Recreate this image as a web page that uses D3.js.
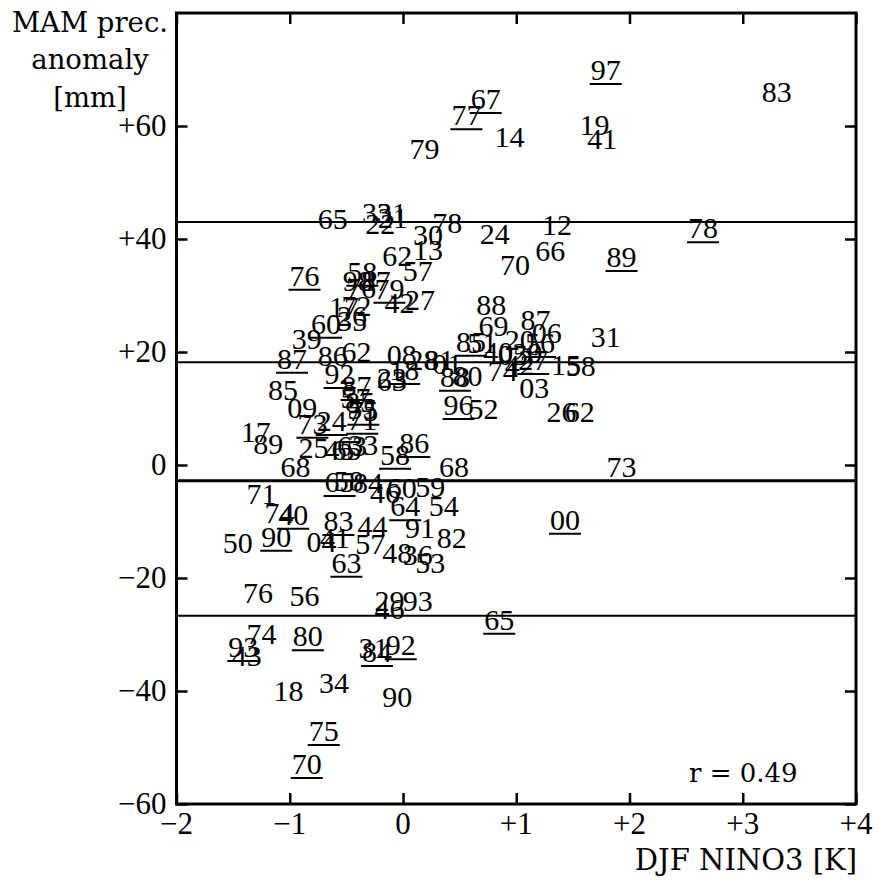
<!DOCTYPE html>
<html>
<head>
<meta charset="utf-8">
<script src="https://cdn.jsdelivr.net/npm/d3@7"></script>
<style>
  body { margin: 0; background: #fff; }
</style>
</head>
<body>
<div id="chart-container"></div>
<script>
// chart values
const years = ['97','83','67','77','14','79','19','41','65','33','31','22','21','78','30','24','12','78','66','70',
  '89','62','13','57','76','58','98','76','87','79','42','27','17','72','26','60','35','39','87','86',
  '62','92','85','09','87','57','85','55','75','73','24','71','25','45','65','63','33','17','89','68',
  '58','86','68','65','58','84','46','60','59','64','54','71','74','40','90','50','83','04','41','44',
  '57','48','36','53','91','82','63','00','73','76','56','29','46','93','65','74','93','43','80','31',
  '84','92','18','34','90','75','70','88','69','85','51','40','05','29','20','87','06','56','74','42',
  '27','03','15','58','31','26','62','96','52','88','80','08','28','81','01','23','63','18'];

const nino3 = [1.79,3.30,0.73,0.56,0.94,0.19,1.69,1.76,-0.62,-0.23,-0.10,-0.20,-0.09,0.39,0.22,0.81,1.36,2.65,1.30,0.99,
  1.93,-0.05,0.22,0.13,-0.87,-0.36,-0.40,-0.37,-0.24,-0.12,-0.03,0.15,-0.52,-0.41,-0.45,-0.68,-0.45,-0.85,-0.98,-0.62,
  -0.41,-0.56,-1.06,-0.89,-0.41,-0.42,-0.38,-0.36,-0.35,-0.80,-0.63,-0.36,-0.79,-0.56,-0.50,-0.45,-0.35,-1.30,-1.19,-0.95,
  -0.07,0.10,0.45,-0.56,-0.48,-0.31,-0.16,-0.01,0.24,0.02,0.36,-1.25,-1.09,-0.97,-1.12,-1.46,-0.57,-0.72,-0.60,-0.27,
  -0.29,-0.05,0.13,0.24,0.15,0.43,-0.50,1.43,1.93,-1.28,-0.87,-0.12,-0.12,0.13,0.85,-1.25,-1.41,-1.38,-0.84,-0.26,
  -0.23,-0.02,-1.01,-0.61,-0.05,-0.70,-0.85,0.78,0.80,0.60,0.70,0.84,0.97,1.10,1.03,1.17,1.27,1.21,0.88,1.03,
  1.15,1.16,1.44,1.57,1.79,1.40,1.56,0.49,0.71,0.46,0.57,-0.01,0.18,0.32,0.39,-0.10,-0.10,0.01];

const prec = [69.9,66.0,64.8,61.9,58.1,55.9,60.2,57.7,43.5,44.6,44.6,42.7,43.7,42.8,40.7,40.9,42.5,41.9,37.9,35.4,
  36.8,37.0,38.1,34.3,33.5,34.2,32.6,31.3,32.6,31.2,28.7,29.2,28.0,28.1,26.4,25.0,25.5,22.3,18.8,19.3,
  20.0,16.1,13.3,10.1,14.0,11.9,11.2,9.9,9.6,7.3,7.8,8.0,3.0,2.7,2.7,3.4,3.5,5.8,3.7,-0.4,
  1.8,3.9,-0.4,-3.0,-2.8,-3.2,-5.0,-4.1,-3.9,-7.3,-7.3,-5.1,-8.5,-8.8,-12.7,-13.8,-9.9,-13.6,-12.9,-10.8,
  -14.0,-15.6,-15.9,-17.3,-11.2,-12.9,-17.3,-9.7,-0.4,-22.7,-23.2,-24.1,-25.5,-24.1,-27.4,-29.9,-32.2,-33.8,-30.3,-32.4,
  -33.1,-31.9,-40.0,-38.6,-41.1,-47.1,-52.9,28.3,24.6,21.8,21.6,20.0,19.5,19.8,22.1,25.7,23.4,21.6,16.6,17.7,
  18.6,13.6,17.7,17.5,22.7,9.4,9.4,10.6,9.9,15.6,15.8,19.5,18.6,18.6,17.9,15.4,14.9,16.8];

// 1 = year drawn underlined
const underlined = [1,0,1,1,0,0,0,0,0,0,0,0,0,0,0,0,0,1,0,0,
  1,0,0,0,1,1,0,0,0,1,0,0,0,0,0,1,0,0,1,0,
  0,1,0,0,1,0,0,0,1,1,1,1,0,0,0,0,0,0,0,0,
  1,1,0,1,0,0,0,0,0,1,0,0,0,1,1,0,1,0,0,0,
  0,0,0,0,0,0,1,1,0,0,0,0,0,0,1,0,1,0,1,0,
  1,1,0,0,0,1,1,0,0,1,0,0,0,0,0,0,0,1,0,0,
  1,0,0,0,0,0,0,1,0,1,0,0,0,0,0,0,0,1];

const refLines = [43.0, 18.2, -2.8, -26.7];
const xTicks = [-2, -1, 0, 1, 2, 3, 4];
const yTicks = [-60, -40, -20, 0, 20, 40, 60];

const chart_width = 879;
const chart_height = 880;
const p_left = 176.5, p_right = 856, p_top = 13, p_bottom = 804;
const serif = "'Liberation Serif', 'Times New Roman', serif";
const titleFont = "'DejaVu Serif', serif";

const svg = d3.select('#chart-container')
    .append('svg')
    .attr('width', chart_width)
    .attr('height', chart_height);

const x_scale = d3.scaleLinear().domain([-2, 4]).range([p_left, p_right]);
const y_scale = d3.scaleLinear().domain([-60, 80]).range([p_bottom, p_top]);

const signed = v => v > 0 ? '+' + v : (v < 0 ? '\u2212' + Math.abs(v) : '0');

// reference lines
svg.selectAll('.ref')
    .data(refLines)
    .enter()
    .append('line')
    .attr('x1', p_left).attr('x2', p_right)
    .attr('y1', d => y_scale(d)).attr('y2', d => y_scale(d))
    .attr('stroke', '#000')
    .attr('stroke-width', (d, i) => i == 2 ? 3 : 2);

// axes, ticks pointing inward on all four sides
svg.append('g')
    .attr('transform', `translate(0, ${p_bottom})`)
    .call(d3.axisTop(x_scale).tickValues(xTicks).tickSize(11).tickFormat(''))
    .call(g => g.select('.domain').remove());
svg.append('g')
    .attr('transform', `translate(0, ${p_top})`)
    .call(d3.axisBottom(x_scale).tickValues(xTicks).tickSize(11).tickFormat(''))
    .call(g => g.select('.domain').remove());
svg.append('g')
    .attr('transform', `translate(${p_left}, 0)`)
    .call(d3.axisRight(y_scale).tickValues(yTicks).tickSize(11).tickFormat(''))
    .call(g => g.select('.domain').remove());
svg.append('g')
    .attr('transform', `translate(${p_right}, 0)`)
    .call(d3.axisLeft(y_scale).tickValues(yTicks).tickSize(11).tickFormat(''))
    .call(g => g.select('.domain').remove());
svg.selectAll('.tick line').attr('stroke-width', 2.5);

// tick labels
svg.selectAll('.xlab')
    .data(xTicks)
    .enter()
    .append('text')
    .attr('x', d => x_scale(d))
    .attr('y', p_bottom + 30)
    .attr('text-anchor', 'middle')
    .attr('font-family', serif)
    .attr('font-size', 31)
    .text(signed);

svg.selectAll('.ylab')
    .data(yTicks)
    .enter()
    .append('text')
    .attr('x', p_left - 10)
    .attr('y', d => y_scale(d) + 10)
    .attr('text-anchor', 'end')
    .attr('font-family', serif)
    .attr('font-size', 31)
    .text(signed);

// frame
svg.append('rect')
    .attr('x', p_left).attr('y', p_top)
    .attr('width', p_right - p_left).attr('height', p_bottom - p_top)
    .attr('fill', 'none')
    .attr('stroke', '#000')
    .attr('stroke-width', 3);

// year labels
const pts = years.map((d, i) => ({year: d, x: nino3[i], y: prec[i], u: underlined[i]}));

svg.selectAll('.yr')
    .data(pts)
    .enter()
    .append('text')
    .attr('class', 'yr')
    .attr('x', d => x_scale(d.x))
    .attr('y', d => y_scale(d.y))
    .attr('dy', '0.34em')
    .attr('text-anchor', 'middle')
    .attr('font-family', serif)
    .attr('font-size', 30)
    .text(d => d.year);

svg.selectAll('.ul')
    .data(pts.filter(d => d.u))
    .enter()
    .append('line')
    .attr('x1', d => x_scale(d.x) - 16)
    .attr('x2', d => x_scale(d.x) + 16)
    .attr('y1', d => y_scale(d.y) + 14)
    .attr('y2', d => y_scale(d.y) + 14)
    .attr('stroke', '#000')
    .attr('stroke-width', 2);

// titles
const ytitle = ['MAM prec.', 'anomaly', '[mm]'];
const ytitle_y = [32, 69, 107];
svg.selectAll('.ytitle')
    .data(ytitle)
    .enter()
    .append('text')
    .attr('x', 90)
    .attr('y', (d, i) => ytitle_y[i])
    .attr('text-anchor', 'middle')
    .attr('font-family', titleFont)
    .attr('font-size', 27.5)
    .text(d => d);

svg.append('text')
    .attr('x', p_right + 1)
    .attr('y', 870)
    .attr('text-anchor', 'end')
    .attr('font-family', titleFont)
    .attr('font-size', 29)
    .text('DJF NINO3 [K]');

svg.append('text')
    .attr('x', 689)
    .attr('y', 782)
    .attr('font-family', titleFont)
    .attr('font-size', 26)
    .text('r = 0.49');
</script>
</body>
</html>
